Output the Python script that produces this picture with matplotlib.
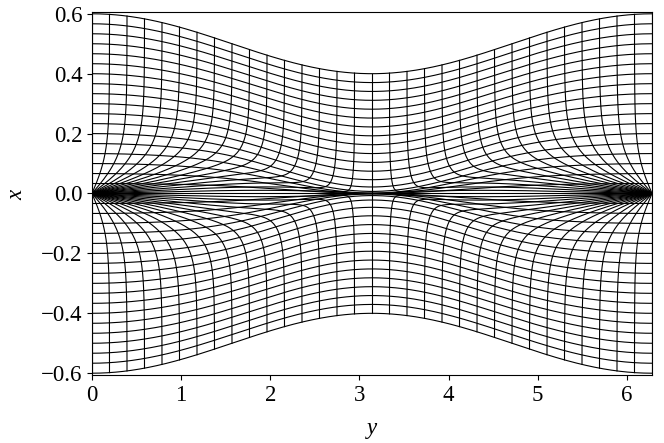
import numpy as np
import matplotlib
matplotlib.use('Agg')
import matplotlib.pyplot as plt

# wall shape: |x| <= h0 + h1*cos(y)
h0, h1 = 0.5, 0.1
n_s = 18          # horizontal line intervals per half
n_eta = 32        # vertical line intervals over [0, 2pi]
s_shift, s_tau = 0.25, 0.035   # centre compression of horizontal lines
w_pow = 3                      # how local the compression is around y = pi
g_sigma = 0.232                # bend of vertical lines towards x = 0
x_ticks = [-0.6, -0.4, -0.2, 0.0, 0.2, 0.4, 0.6]
y_ticks = [0, 1, 2, 3, 4, 5, 6]

plt.rcParams['font.family'] = ['Liberation Serif', 'DejaVu Serif']
plt.rcParams['mathtext.fontset'] = 'custom'
plt.rcParams['mathtext.it'] = 'Liberation Serif:italic'
plt.rcParams['mathtext.rm'] = 'Liberation Serif'
plt.rcParams['font.size'] = 16.5


def wall(y):
    return h0 + h1 * np.cos(y)


def soft(s):
    return s_tau * np.log1p(np.exp((s - s_shift) / s_tau))


def profile(s):
    return (soft(s) - soft(0.0)) / (soft(1.0) - soft(0.0))


def x_of(s, y):
    w = ((1 - np.cos(y)) / 2) ** w_pow
    a = np.abs(s)
    return np.sign(s) * wall(y) * ((1 - w) * a + w * profile(a))


def y_of(eta, s):
    g = np.tanh(np.abs(s) / g_sigma) / np.tanh(1 / g_sigma)
    return 2 * np.arctan2(np.sin(eta / 2) * g, np.cos(eta / 2))


fig = plt.figure(figsize=(6.64, 4.43), dpi=100)
ax = fig.add_axes([92 / 664, 1 - 375 / 443, 560 / 664, 363 / 443])

yy = np.linspace(0, 2 * np.pi, 1500)
for k in range(-n_s, n_s + 1):
    s = k / n_s
    ax.plot(yy, x_of(s, yy), color='k', lw=0.8)

ss = np.concatenate([np.geomspace(1e-5, 0.05, 400), np.linspace(0.05, 1, 400)])
for k in range(n_eta + 1):
    eta = 2 * np.pi * k / n_eta
    for sgn in (1, -1):
        y = y_of(eta, ss)
        ax.plot(y, x_of(sgn * ss, y), color='k', lw=0.8)

ax.set_xlim(0, 2 * np.pi)
ax.set_ylim(-0.606, 0.606)
ax.set_xticks(y_ticks)
ax.set_yticks(x_ticks)
ax.set_xlabel('$y$', labelpad=10)
ax.set_ylabel('$x$', labelpad=10)
fig.savefig('out.png', dpi=100)
